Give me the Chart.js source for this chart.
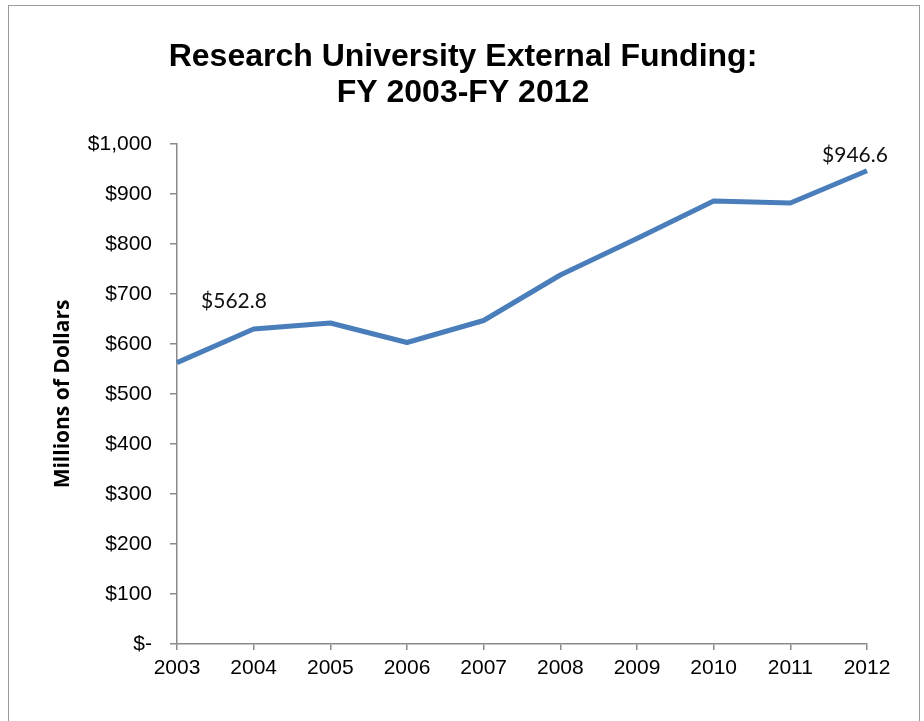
<!DOCTYPE html>
<html>
<head>
<meta charset="utf-8">
<script src="https://cdn.jsdelivr.net/npm/chart.js@4/dist/chart.umd.min.js"></script>
<style>
    body { margin: 0; background: #fff; }
    .wrap { position: relative; width: 924px; height: 721px; overflow: hidden; }
    .frame { position: absolute; left: 8px; top: 5px; width: 910px; height: 800px; border: 1px solid #9a9a9a; }
    canvas { position: absolute; left: 0; top: 0; }
</style>
</head>
<body>
<div class="wrap">
    <div class="frame"></div>
    <canvas id="chart" width="924" height="721"></canvas>
</div>
<script>
const years = ["2003", "2004", "2005", "2006", "2007", "2008", "2009", "2010", "2011", "2012"];
const funding = [562.8, 630, 642, 603, 647, 738, 811, 886, 882, 946.6];
const labeledPoints = [0, 9];

const axisGray = "#8a8a8a";

// writes the value next to the first and last point, like the excel data labels
const pointLabels = {
    id: "pointLabels",
    afterDatasetsDraw: function (chart, args, opts) {
        const ctx = chart.ctx;
        const meta = chart.getDatasetMeta(0);
        ctx.save();
        ctx.font = "21px Lato";
        ctx.fillStyle = "#111";
        ctx.textAlign = "center";
        ctx.textBaseline = "middle";
        labeledPoints.forEach((i, n) => {
            const pt = meta.data[i];
            const shift = opts.shifts[n];
            ctx.fillText("$" + funding[i].toFixed(1), pt.x + shift[0], pt.y + shift[1]);
        });
        ctx.restore();
    }
};

const config = {
    type: "line",
    data: {
        labels: years,
        datasets: [{
            label: "External Funding",
            data: funding,
            borderColor: "#4a7ebb",
            borderWidth: 5,
            pointRadius: 0,
            tension: 0,
            borderJoinStyle: "round"
        }]
    },
    options: {
        responsive: false,
        animation: false,
        layout: {
            padding: { left: 59, right: 57, top: 0, bottom: 37 }
        },
        plugins: {
            legend: { display: false },
            tooltip: { enabled: false },
            title: {
                display: true,
                text: ["Research University External Funding:", "FY 2003-FY 2012"],
                color: "#000",
                font: { family: "Liberation Sans", size: 32, weight: "bold", lineHeight: 1.125 },
                padding: { top: 39, bottom: 33 }
            },
            pointLabels: {
                shifts: [[57, -61], [-12, -15]]
            }
        },
        scales: {
            x: {
                offset: false,
                afterFit: (scale) => { scale.height = 40; },
                grid: { drawOnChartArea: false, drawTicks: true, tickLength: 6, color: axisGray, lineWidth: 1.5 },
                border: { display: true, color: axisGray, width: 1.5 },
                ticks: {
                    color: "#000",
                    font: { family: "Liberation Sans", size: 21 },
                    padding: 6,
                    maxRotation: 0,
                    autoSkip: false
                }
            },
            y: {
                min: 0,
                max: 1000,
                afterFit: (scale) => { scale.width = 118; },
                grid: { drawOnChartArea: false, drawTicks: true, tickLength: 7, color: axisGray, lineWidth: 1.5 },
                border: { display: true, color: axisGray, width: 1.5 },
                ticks: {
                    stepSize: 100,
                    color: "#000",
                    font: { family: "Liberation Sans", size: 21 },
                    padding: 18,
                    callback: (v) => v === 0 ? "$-" : "$" + v.toLocaleString("en-US")
                },
                title: {
                    display: true,
                    text: "Millions of Dollars",
                    color: "#000",
                    font: { family: "Open Sans", size: 21, weight: "bold", lineHeight: 1.2 },
                    padding: { top: -9, bottom: 0 }
                }
            }
        }
    },
    plugins: [pointLabels]
};

const myChart = new Chart(document.getElementById("chart"), config);
</script>
</body>
</html>
